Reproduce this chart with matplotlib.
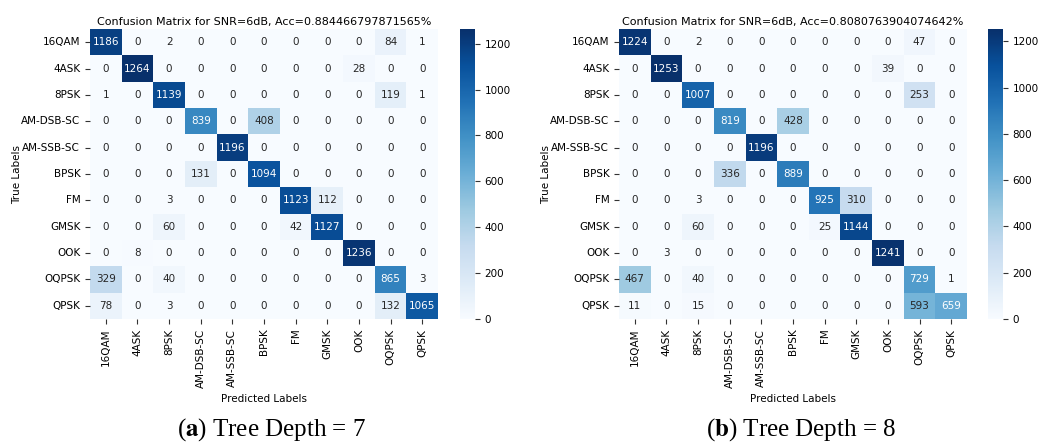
import numpy as np
import matplotlib
matplotlib.use('Agg')
import matplotlib.pyplot as plt
import seaborn as sns

labels = ['16QAM', '4ASK', '8PSK', 'AM-DSB-SC', 'AM-SSB-SC', 'BPSK',
          'FM', 'GMSK', 'OOK', 'OQPSK', 'QPSK']

# Tree depth = 7
cm_depth7 = np.array([
    [1186, 0, 2, 0, 0, 0, 0, 0, 0, 84, 1],
    [0, 1264, 0, 0, 0, 0, 0, 0, 28, 0, 0],
    [1, 0, 1139, 0, 0, 0, 0, 0, 0, 119, 1],
    [0, 0, 0, 839, 0, 408, 0, 0, 0, 0, 0],
    [0, 0, 0, 0, 1196, 0, 0, 0, 0, 0, 0],
    [0, 0, 0, 131, 0, 1094, 0, 0, 0, 0, 0],
    [0, 0, 3, 0, 0, 0, 1123, 112, 0, 0, 0],
    [0, 0, 60, 0, 0, 0, 42, 1127, 0, 0, 0],
    [0, 8, 0, 0, 0, 0, 0, 0, 1236, 0, 0],
    [329, 0, 40, 0, 0, 0, 0, 0, 0, 865, 3],
    [78, 0, 3, 0, 0, 0, 0, 0, 0, 132, 1065],
])

# Tree depth = 8
cm_depth8 = np.array([
    [1224, 0, 2, 0, 0, 0, 0, 0, 0, 47, 0],
    [0, 1253, 0, 0, 0, 0, 0, 0, 39, 0, 0],
    [0, 0, 1007, 0, 0, 0, 0, 0, 0, 253, 0],
    [0, 0, 0, 819, 0, 428, 0, 0, 0, 0, 0],
    [0, 0, 0, 0, 1196, 0, 0, 0, 0, 0, 0],
    [0, 0, 0, 336, 0, 889, 0, 0, 0, 0, 0],
    [0, 0, 3, 0, 0, 0, 925, 310, 0, 0, 0],
    [0, 0, 60, 0, 0, 0, 25, 1144, 0, 0, 0],
    [0, 3, 0, 0, 0, 0, 0, 0, 1241, 0, 0],
    [467, 0, 40, 0, 0, 0, 0, 0, 0, 729, 1],
    [11, 0, 15, 0, 0, 0, 0, 0, 0, 593, 659],
])

titles = ['Confusion Matrix for SNR=6dB, Acc=0.884466797871565%',
          'Confusion Matrix for SNR=6dB, Acc=0.8080763904074642%']
captions = [('a', 'Tree Depth = 7'), ('b', 'Tree Depth = 8')]

W, H = 1041, 447
plt.rcParams['font.family'] = ['DejaVu Sans']
fig = plt.figure(figsize=(W / 100, H / 100), dpi=100)

# heatmap left edge, colorbar left edge, caption centre (pixels)
panels = [(90, 460, 271), (619, 988, 801)]

for cm, title, (x0, cx0, cap_x), (letter, rest) in zip(
        [cm_depth7, cm_depth8], titles, panels, captions):
    ax = fig.add_axes([x0 / W, 128 / H, 348 / W, 290 / H])
    cax = fig.add_axes([cx0 / W, 128 / H, 15 / W, 290 / H])
    sns.heatmap(cm, annot=True, fmt='d', cmap='Blues', ax=ax, cbar_ax=cax,
                xticklabels=labels, yticklabels=labels,
                annot_kws={'fontsize': 7.5})
    ax.set_title(title, fontsize=8, pad=3)
    ax.set_xlabel('Predicted Labels', fontsize=7.5)
    ax.set_ylabel('True Labels', fontsize=7.5)
    ax.yaxis.set_label_coords(-0.195, 0.5)
    ax.tick_params(labelsize=7.5, length=3.5, width=0.8, left=True,
                   bottom=True, color='#333333')
    plt.setp(ax.get_xticklabels(), rotation=90)
    plt.setp(ax.get_yticklabels(), rotation=0)
    cax.tick_params(labelsize=7.5, length=3.5, width=0.8, right=True,
                    color='#333333')

    # subfigure caption
    fig.text(cap_x / W, 1 - 430 / H,
             r'($\mathbf{' + letter + r'}$) ' + rest,
             ha='center', va='center', fontsize=18,
             family='Liberation Serif', math_fontfamily='stix')

fig.savefig('out.png', dpi=100)
